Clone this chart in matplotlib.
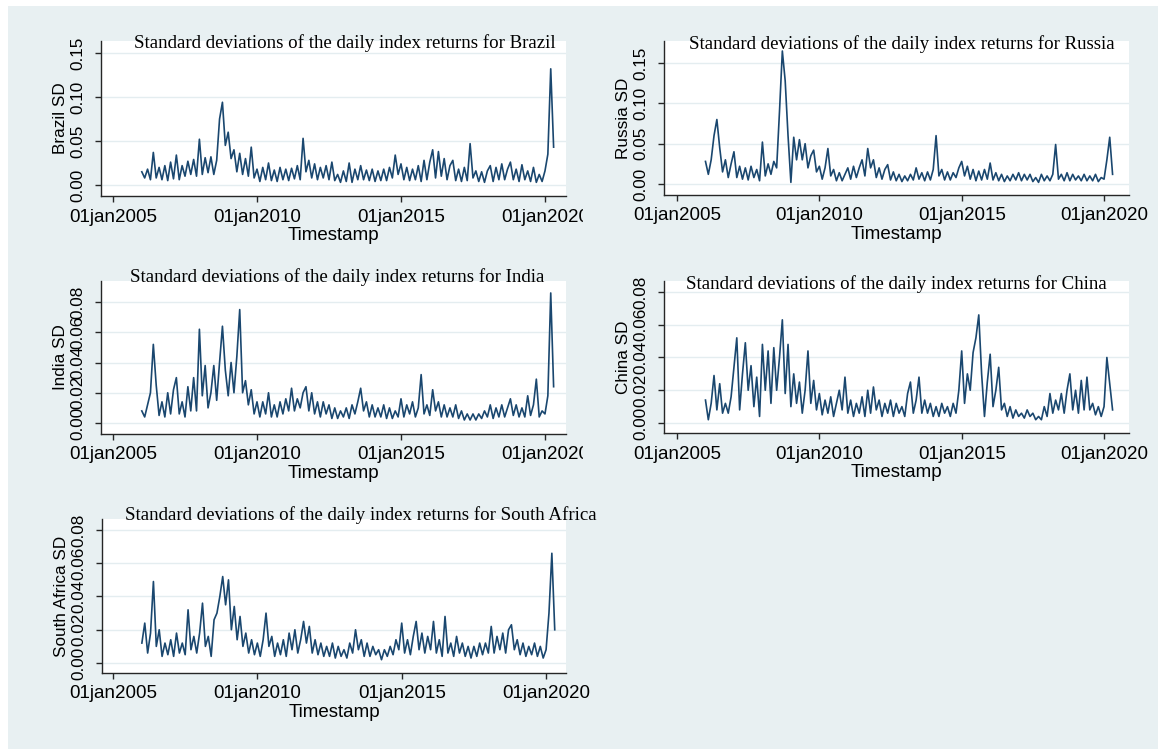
import numpy as np
import matplotlib
matplotlib.use("Agg")
import matplotlib.pyplot as plt
from matplotlib.patches import Rectangle
from matplotlib.transforms import Bbox, TransformedBbox

W, H = 1158, 749
BG = "#e8f0f2"
NAVY = "#1a476f"
GRID = "#e4edf0"
AXC = "#262626"

# data: 0.1-year steps from Jan 2006
timestamp = 2006.0 + 0.1 * np.arange(144)
year_ticks = [2005, 2010, 2015, 2020]
year_labels = ["01jan2005", "01jan2010", "01jan2015", "01jan2020"]

brazil_sd = [
    0.015, 0.008, 0.018, 0.006, 0.037, 0.008, 0.020, 0.006, 0.022, 0.005,
    0.026, 0.007, 0.034, 0.006, 0.022, 0.010, 0.027, 0.012, 0.029, 0.010,
    0.052, 0.012, 0.031, 0.014, 0.032, 0.012, 0.028, 0.075, 0.094, 0.045,
    0.060, 0.030, 0.040, 0.015, 0.036, 0.012, 0.030, 0.010, 0.043, 0.008,
    0.018, 0.004, 0.020, 0.006, 0.025, 0.005, 0.017, 0.004, 0.020, 0.006,
    0.018, 0.005, 0.019, 0.007, 0.022, 0.006, 0.053, 0.015, 0.028, 0.008,
    0.024, 0.006, 0.020, 0.008, 0.022, 0.006, 0.026, 0.005, 0.012, 0.003,
    0.016, 0.004, 0.025, 0.003, 0.018, 0.006, 0.022, 0.006, 0.017, 0.005,
    0.018, 0.004, 0.016, 0.005, 0.018, 0.005, 0.020, 0.008, 0.034, 0.012,
    0.024, 0.006, 0.020, 0.005, 0.018, 0.006, 0.022, 0.004, 0.028, 0.006,
    0.026, 0.040, 0.008, 0.038, 0.010, 0.030, 0.006, 0.022, 0.028, 0.005,
    0.018, 0.004, 0.020, 0.005, 0.047, 0.008, 0.016, 0.004, 0.015, 0.003,
    0.016, 0.022, 0.004, 0.020, 0.006, 0.024, 0.006, 0.018, 0.026, 0.006,
    0.018, 0.004, 0.023, 0.006, 0.016, 0.004, 0.020, 0.003, 0.012, 0.004,
    0.016, 0.035, 0.132, 0.043,
]
russia_sd = [
    0.028, 0.012, 0.030, 0.060, 0.080, 0.045, 0.015, 0.030, 0.008, 0.025,
    0.040, 0.008, 0.022, 0.006, 0.020, 0.005, 0.022, 0.008, 0.018, 0.004,
    0.052, 0.010, 0.025, 0.012, 0.028, 0.020, 0.090, 0.165, 0.128, 0.060,
    0.002, 0.058, 0.030, 0.055, 0.030, 0.050, 0.020, 0.035, 0.042, 0.015,
    0.022, 0.006, 0.020, 0.044, 0.010, 0.018, 0.004, 0.014, 0.004, 0.012,
    0.020, 0.006, 0.022, 0.008, 0.020, 0.030, 0.010, 0.044, 0.020, 0.030,
    0.008, 0.020, 0.006, 0.018, 0.024, 0.005, 0.015, 0.004, 0.012, 0.003,
    0.010, 0.004, 0.012, 0.005, 0.020, 0.006, 0.014, 0.004, 0.015, 0.005,
    0.018, 0.060, 0.010, 0.018, 0.005, 0.015, 0.005, 0.014, 0.008, 0.020,
    0.028, 0.010, 0.022, 0.006, 0.018, 0.004, 0.016, 0.005, 0.018, 0.006,
    0.026, 0.005, 0.014, 0.004, 0.012, 0.003, 0.010, 0.004, 0.012, 0.005,
    0.014, 0.004, 0.012, 0.005, 0.012, 0.003, 0.008, 0.002, 0.012, 0.004,
    0.010, 0.004, 0.012, 0.049, 0.006, 0.012, 0.004, 0.014, 0.004, 0.012,
    0.005, 0.010, 0.004, 0.012, 0.004, 0.010, 0.004, 0.012, 0.003, 0.008,
    0.006, 0.030, 0.058, 0.012,
]
india_sd = [
    0.008, 0.004, 0.012, 0.020, 0.052, 0.025, 0.005, 0.014, 0.004, 0.020,
    0.006, 0.022, 0.030, 0.006, 0.014, 0.004, 0.024, 0.008, 0.030, 0.008,
    0.062, 0.018, 0.038, 0.010, 0.020, 0.038, 0.015, 0.040, 0.064, 0.035,
    0.018, 0.040, 0.020, 0.044, 0.075, 0.020, 0.028, 0.012, 0.022, 0.006,
    0.014, 0.004, 0.014, 0.006, 0.020, 0.004, 0.012, 0.004, 0.014, 0.006,
    0.016, 0.008, 0.023, 0.008, 0.016, 0.010, 0.020, 0.024, 0.008, 0.020,
    0.006, 0.014, 0.004, 0.014, 0.006, 0.012, 0.003, 0.010, 0.003, 0.008,
    0.004, 0.010, 0.003, 0.012, 0.006, 0.014, 0.023, 0.008, 0.014, 0.004,
    0.012, 0.004, 0.010, 0.004, 0.012, 0.003, 0.010, 0.003, 0.008, 0.004,
    0.016, 0.004, 0.012, 0.006, 0.014, 0.004, 0.010, 0.032, 0.006, 0.012,
    0.005, 0.022, 0.008, 0.014, 0.004, 0.012, 0.004, 0.010, 0.004, 0.012,
    0.003, 0.008, 0.002, 0.006, 0.002, 0.006, 0.002, 0.006, 0.003, 0.008,
    0.004, 0.012, 0.003, 0.010, 0.004, 0.012, 0.004, 0.010, 0.016, 0.005,
    0.012, 0.004, 0.010, 0.004, 0.018, 0.005, 0.012, 0.029, 0.004, 0.008,
    0.006, 0.018, 0.086, 0.024,
]
china_sd = [
    0.014, 0.002, 0.012, 0.029, 0.008, 0.024, 0.006, 0.012, 0.006, 0.016,
    0.034, 0.052, 0.008, 0.030, 0.049, 0.020, 0.035, 0.010, 0.028, 0.004,
    0.048, 0.020, 0.044, 0.012, 0.046, 0.020, 0.040, 0.063, 0.018, 0.048,
    0.010, 0.030, 0.012, 0.025, 0.006, 0.020, 0.044, 0.012, 0.026, 0.008,
    0.018, 0.005, 0.014, 0.006, 0.016, 0.004, 0.012, 0.020, 0.008, 0.028,
    0.006, 0.014, 0.004, 0.012, 0.006, 0.016, 0.004, 0.020, 0.006, 0.022,
    0.008, 0.014, 0.004, 0.012, 0.006, 0.014, 0.004, 0.012, 0.006, 0.010,
    0.004, 0.018, 0.025, 0.006, 0.014, 0.028, 0.006, 0.014, 0.006, 0.012,
    0.004, 0.010, 0.004, 0.012, 0.006, 0.010, 0.004, 0.012, 0.006, 0.020,
    0.044, 0.012, 0.030, 0.020, 0.043, 0.052, 0.066, 0.030, 0.004, 0.025,
    0.042, 0.010, 0.020, 0.034, 0.008, 0.012, 0.004, 0.010, 0.003, 0.008,
    0.004, 0.006, 0.003, 0.008, 0.004, 0.006, 0.002, 0.004, 0.002, 0.010,
    0.004, 0.018, 0.006, 0.014, 0.008, 0.018, 0.006, 0.020, 0.030, 0.008,
    0.020, 0.006, 0.026, 0.008, 0.028, 0.008, 0.012, 0.005, 0.010, 0.004,
    0.010, 0.040, 0.024, 0.008,
]
south_africa_sd = [
    0.012, 0.024, 0.006, 0.018, 0.049, 0.010, 0.020, 0.004, 0.012, 0.005,
    0.014, 0.004, 0.018, 0.006, 0.012, 0.005, 0.032, 0.008, 0.016, 0.006,
    0.018, 0.036, 0.010, 0.016, 0.004, 0.026, 0.030, 0.040, 0.052, 0.035,
    0.050, 0.020, 0.034, 0.014, 0.028, 0.010, 0.018, 0.006, 0.014, 0.005,
    0.012, 0.004, 0.014, 0.030, 0.010, 0.016, 0.004, 0.012, 0.005, 0.014,
    0.004, 0.018, 0.008, 0.020, 0.006, 0.014, 0.025, 0.012, 0.022, 0.006,
    0.014, 0.005, 0.012, 0.004, 0.010, 0.004, 0.012, 0.003, 0.010, 0.004,
    0.008, 0.003, 0.012, 0.006, 0.020, 0.008, 0.014, 0.004, 0.012, 0.004,
    0.010, 0.005, 0.008, 0.002, 0.008, 0.004, 0.010, 0.005, 0.014, 0.008,
    0.024, 0.006, 0.014, 0.005, 0.016, 0.025, 0.008, 0.018, 0.006, 0.016,
    0.008, 0.025, 0.006, 0.014, 0.004, 0.028, 0.006, 0.012, 0.004, 0.016,
    0.006, 0.012, 0.004, 0.010, 0.003, 0.010, 0.004, 0.012, 0.005, 0.012,
    0.006, 0.022, 0.006, 0.016, 0.008, 0.018, 0.006, 0.020, 0.023, 0.008,
    0.014, 0.005, 0.012, 0.004, 0.010, 0.005, 0.012, 0.004, 0.010, 0.003,
    0.008, 0.030, 0.066, 0.020,
]

ticks_wide = [0.00, 0.05, 0.10, 0.15]
ticks_narrow = [0.00, 0.02, 0.04, 0.06, 0.08]

# name, values, yticks, ylim, xlim, axes box in px (l, t, r, b), title anchor px
panels = [
    ("Brazil", brazil_sd, ticks_wide, (-0.0125, 0.1636), (2004.583, 2020.73),
     (101, 41, 566, 196), (134, 48), True),
    ("Russia", russia_sd, ticks_wide, (-0.01365, 0.1774), (2004.543, 2020.877),
     (664, 41, 1129, 195), (689, 49), False),
    ("India", india_sd, ticks_narrow, (-0.00727, 0.0939), (2004.583, 2020.73),
     (101, 281, 566, 434), (130, 282), True),
    ("China", china_sd, ticks_narrow, (-0.0061, 0.0867), (2004.543, 2020.877),
     (664, 281, 1129, 433), (686, 289), False),
    ("South Africa", south_africa_sd, ticks_narrow, (-0.006, 0.0866), (2004.619, 2020.69),
     (102, 519, 566, 673), (125, 520), False),
]

fig = plt.figure(figsize=(W / 100, H / 100), dpi=100)
fig.patch.set_facecolor("white")
fig.add_artist(Rectangle((8 / W, 0), 1 - 8 / W, 1 - 6 / H, transform=fig.transFigure,
                         facecolor=BG, edgecolor="none", zorder=-10))

left_clip = TransformedBbox(Bbox([[0, 0], [583 / W, 1]]), fig.transFigure)

for name, vals, yt, ylim, xlim, (l, t, r, b), (tx, ty), clip in panels:
    ax = fig.add_axes([l / W, 1 - b / H, (r - l) / W, (b - t) / H])
    ax.set_facecolor("white")
    ax.plot(timestamp, vals, color=NAVY, lw=1.2)
    ax.set_xlim(*xlim)
    ax.set_ylim(*ylim)
    ax.set_xticks(year_ticks, year_labels, fontsize=13.5, family="Liberation Sans")
    ax.set_yticks(yt, [f"{v:.2f}" for v in yt], fontsize=12.3, family="Liberation Sans",
                  rotation=90, va="center")
    ax.yaxis.grid(True, color=GRID, lw=1.0)
    ax.set_axisbelow(True)
    for s in ("top", "right"):
        ax.spines[s].set_visible(False)
    for s in ("left", "bottom"):
        ax.spines[s].set_color(AXC)
        ax.spines[s].set_linewidth(1.0)
    ax.tick_params(axis="x", length=4, width=1.0, color=AXC, pad=5)
    ax.tick_params(axis="y", length=4, width=1.0, color=AXC, pad=7)
    ax.set_xlabel("Timestamp", fontsize=13.5, family="Liberation Sans", labelpad=1)
    ax.set_ylabel(f"{name} SD", fontsize=12.3, family="Liberation Sans", labelpad=2)
    if clip:
        lab = ax.xaxis.get_major_ticks()[-1].label1
        lab.set_clip_on(True)
        lab.set_clip_box(left_clip)
    fig.text(tx / W, 1 - ty / H, f"Standard deviations of the daily index returns for {name}",
             family="Liberation Serif", fontsize=13.6, ha="left", va="baseline")

fig.savefig("out.png", dpi=100)
